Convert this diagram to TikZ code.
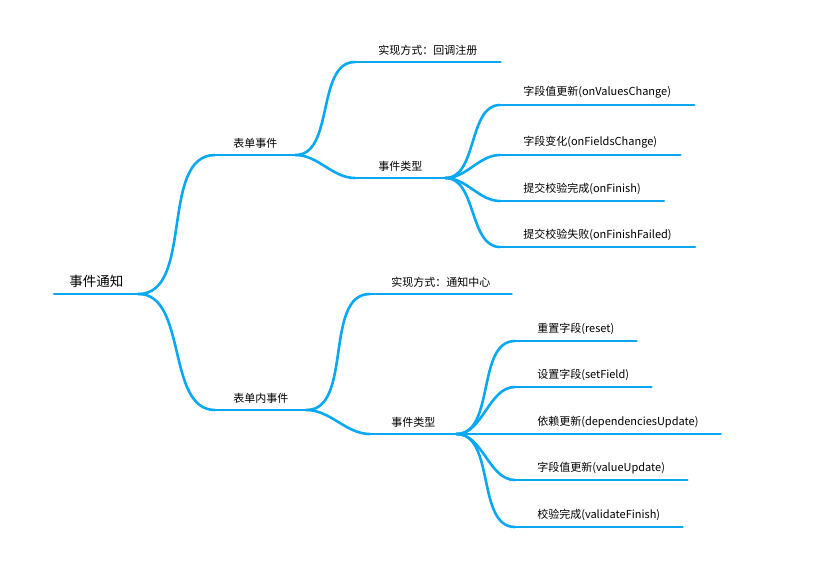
\documentclass[tikz,border=0pt]{standalone}
\usepackage{fontspec}
\setmainfont{Noto Sans CJK SC}
\usetikzlibrary{positioning}
\definecolor{mapblue}{HTML}{0AA8F0}

\begin{document}
\begin{tikzpicture}
[x=1pt,y=-1pt,line width=2.6pt,
 topic/.style={anchor=south west,inner xsep=17pt,inner ysep=5pt,font=\fontsize{11}{13}\selectfont},
 branch/.style={draw=mapblue,line cap=round,out=0,in=180,looseness=0.9}]

\useasboundingbox (0,0) rectangle (816,566);

\node[topic, inner xsep=14pt, font=\fontsize{13.5}{16}\selectfont] (root) at (54,294) {事件通知};

\node[topic] (form) at (215,155) {表单事件};
\node[topic] (inner) at (215,410) {表单内事件};

\node[topic, inner xsep=22pt] (formWay) at (355,62) {实现方式：回调注册};
\node[topic, inner xsep=22pt] (formType) at (355,178) {事件类型};
\node[topic, inner xsep=20pt] (innerWay) at (370,294) {实现方式：通知中心};
\node[topic, inner xsep=20pt] (innerType) at (370,434) {事件类型};

\node[topic, inner xsep=22pt] (values) at (500,105) {字段值更新(onValuesChange)};
\node[topic, inner xsep=22pt] (fields) at (500,155) {字段变化(onFieldsChange)};
\node[topic, inner xsep=22pt] (finish) at (500,201) {提交校验完成(onFinish)};
\node[topic, inner xsep=22pt] (failed) at (500,247) {提交校验失败(onFinishFailed)};

\node[topic, inner xsep=21pt] (reset) at (515,341) {重置字段(reset)};
\node[topic, inner xsep=21pt] (setField) at (515,387) {设置字段(setField)};
\node[topic, inner xsep=21pt] (depend) at (515,434) {依赖更新(dependenciesUpdate)};
\node[topic, inner xsep=21pt] (valueUp) at (515,480) {字段值更新(valueUpdate)};
\node[topic, inner xsep=21pt] (validate) at (515,527) {校验完成(validateFinish)};

% underlines
\foreach \n in {root,form,inner,formWay,formType,innerWay,innerType,
                values,fields,finish,failed,reset,setField,depend,valueUp,validate}
  \draw[branch] (\n.south west) -- (\n.south east);

% connectors
\path[branch]
	(root.south east) edge (form.south west)
		edge (inner.south west)
	(form.south east) edge (formWay.south west)
		edge (formType.south west)
	(inner.south east) edge (innerWay.south west)
		edge (innerType.south west)
	(formType.south east) edge (values.south west)
		edge (fields.south west)
		edge (finish.south west)
		edge (failed.south west)
	(innerType.south east) edge (reset.south west)
		edge (setField.south west)
		edge (depend.south west)
		edge (valueUp.south west)
		edge (validate.south west);
\end{tikzpicture}
\end{document}
